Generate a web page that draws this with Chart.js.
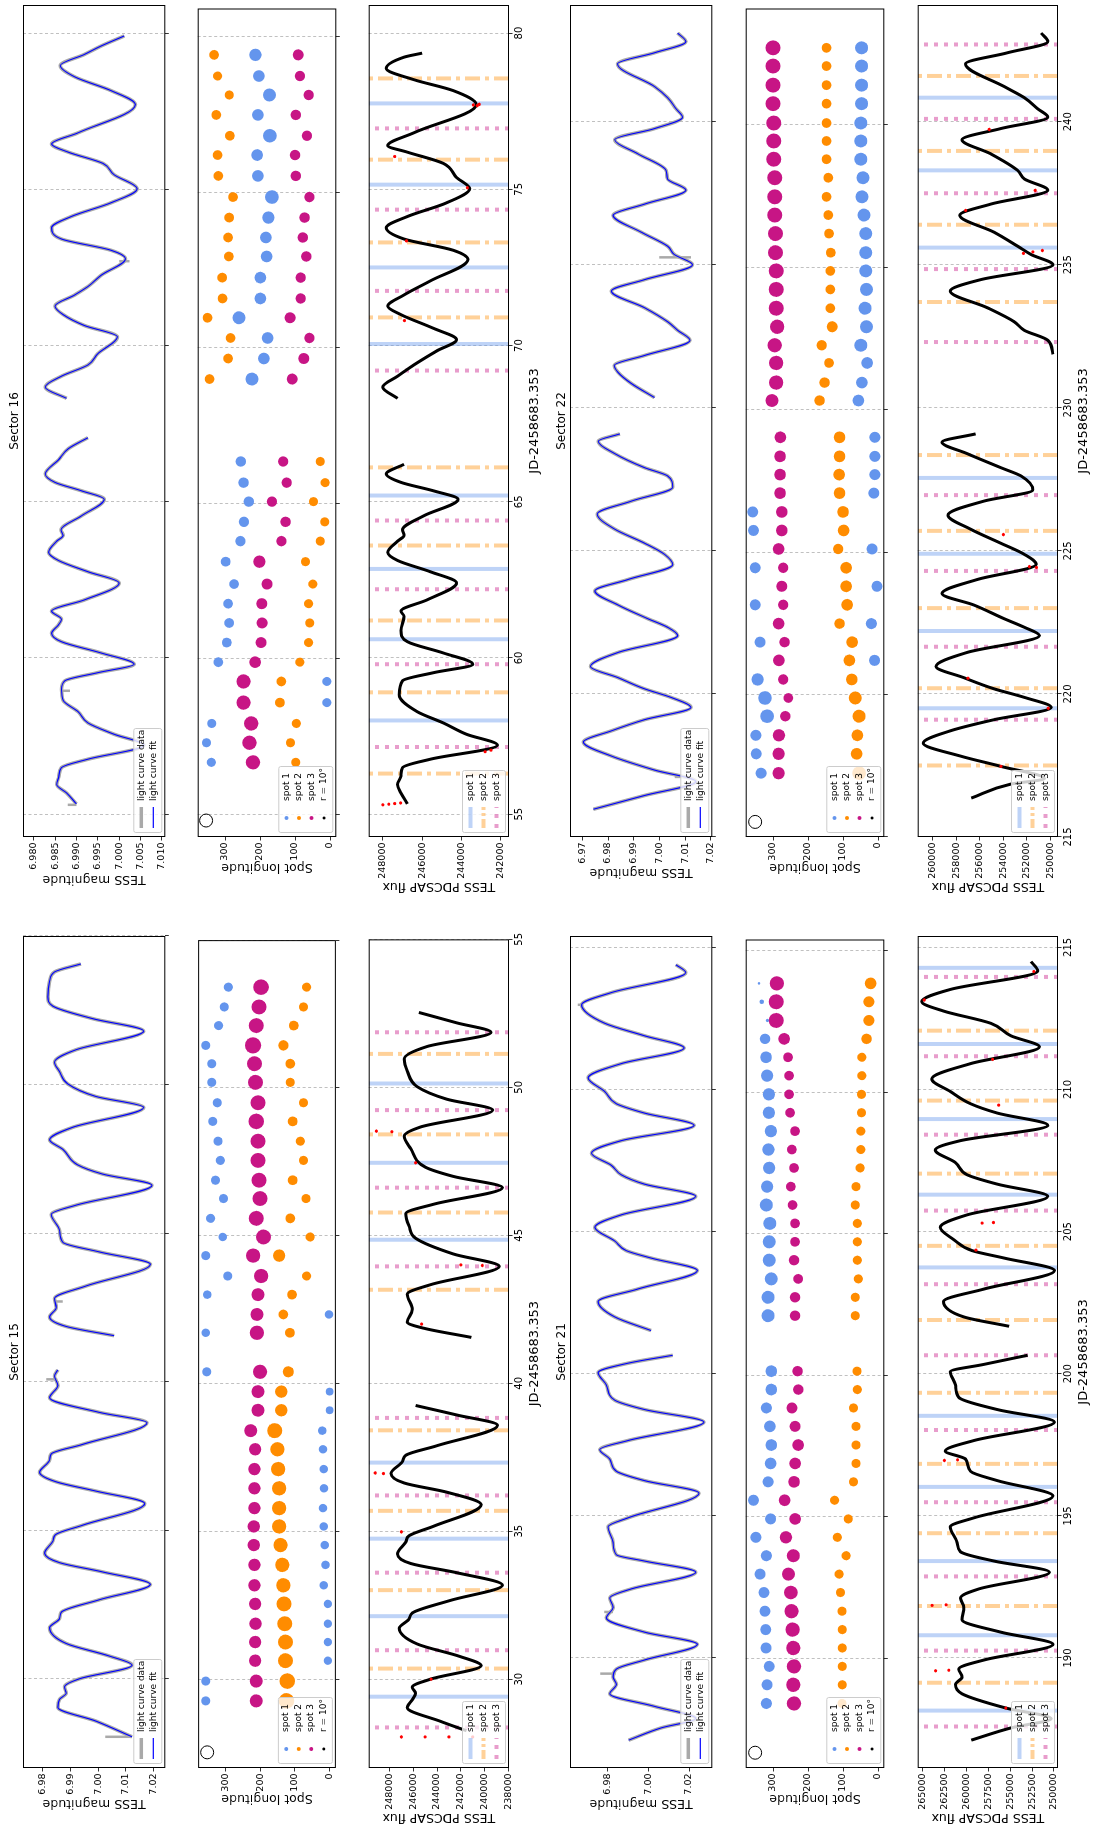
<!DOCTYPE html>
<html>
<head>
<meta charset="utf-8">
<script src="https://cdn.jsdelivr.net/npm/chart.js@4.4.1/dist/chart.umd.min.js"></script>
<style>
  html, body { margin: 0; padding: 0; background: #fff; overflow: hidden; }
  /* the figure is landscape, the page shows it turned a quarter turn */
  #fig { position: absolute; left: 0; top: 0; width: 1831px; height: 1093px;
         transform-origin: 0 0; transform: translateY(1831px) rotate(-90deg); background: #fff; }
  #fig canvas { position: absolute; }
</style>
</head>
<body>
<div id="fig"></div>
<script>
// ---------- Sector 15 ----------
const s15TimeRange = [27, 55];
const s15TimeTicks = [30, 35, 40, 45, 50, 55];
const s15MagRange = [6.9728, 7.0242];
const s15MagTicks = [6.98, 6.99, 7.00, 7.01, 7.02];
const s15MagT = [28.05,28.58,29.04,29.31,29.52,29.73,30.00,30.46,30.77,31.19,31.72,32.03,32.24,32.66,33.18,33.60,33.91,34.23,34.64,34.85,35.17,35.90,36.32,36.63,36.95,37.36,37.57,37.89,38.62,38.97,39.46,39.87,40.19,40.40,
  41.0,
  41.55,41.86,42.18,42.49,42.80,43.22,43.95,44.37,44.69,45.10,45.63,45.94,46.61,46.99,47.30,47.82,48.14,48.56,49.23,49.60,50.02,50.44,50.75,51.17,51.80,52.22,52.64,52.95,53.47,53.79,54.06];
const s15Mag = [7.0122,6.9991,6.9854,6.9860,6.9884,6.9878,6.9931,7.0122,7.0039,6.9884,6.9824,6.9860,6.9866,7.0003,7.0188,7.0015,6.9860,6.9806,6.9836,6.9845,6.9943,7.0168,6.9991,6.9848,6.9788,6.9824,6.9830,6.9943,7.0176,7.0003,6.9824,6.9854,6.9842,6.9854,
  null,
  7.0057,6.9884,6.9824,6.9848,6.9842,6.9955,7.0188,7.0003,6.9872,6.9860,6.9830,6.9919,7.0194,7.0015,6.9925,6.9872,6.9824,6.9907,7.0164,6.9991,6.9890,6.9860,6.9842,6.9919,7.0164,6.9979,6.9836,6.9818,6.9824,6.9842,6.9937];
const s15SpikeT = [28.05, 28.05, 28.06, 40.08, 40.08, 40.09, 42.70, 42.70];
const s15SpikeM = [7.0122, 7.0025, null, 6.9852, 6.9812, null, 6.9845, 6.9872];
const s15FluxRange = [237950, 249740];
const s15FluxTicks = [238000, 240000, 242000, 244000, 246000, 248000];
const s15FluxT = [28.26,28.58,29.04,29.31,29.52,29.73,30.00,30.46,30.77,31.19,31.72,32.03,32.24,32.66,33.18,33.60,33.91,34.23,34.64,34.85,35.17,35.90,36.32,36.63,36.95,37.36,37.57,37.89,38.58,38.93,39.25,
  40.4,
  41.55,41.86,42.07,42.49,43.01,43.33,43.95,44.37,44.90,45.31,45.73,46.05,46.61,46.99,47.30,47.93,48.35,48.66,49.23,49.60,50.02,50.54,50.96,51.38,51.86,52.18,52.53];
const s15Flux = [241530,243730,246490,246070,245800,246070,244560,240290,242080,245660,247170,246350,246070,242900,238500,242350,246210,247310,246620,246350,244280,240290,243180,246760,247860,246900,246620,244010,238910,242350,245800,
  null,
  241110,245110,246490,246070,246490,244560,238770,242630,245800,246350,246620,244280,238500,242630,244970,246210,246760,245380,239320,243180,245660,246490,246760,244830,239460,242350,245520];
const s15RedT = [28.05,28.05,28.05,28.05,30.00,34.98,36.95,36.97,42.00,43.98,44.00,47.45,48.50,48.52];
const s15RedF = [247000,245000,243000,241000,244500,247000,248500,249200,245300,240200,242000,245800,247800,249100];
const s15SpotT = [29.27,29.94,30.63,31.26,31.88,32.55,33.18,33.87,34.54,35.17,35.79,36.46,37.11,37.78,38.41,39.10,39.73,40.40,
  41.72,42.34,43.01,43.64,44.33,44.96,45.59,46.26,46.88,47.55,48.20,48.87,49.50,50.19,50.82,51.44,52.11,52.74,53.41];
const s15Lon1 = [356,356,5,5,5,5,17,12,14,17,19,16,17,19,21,0,0,353, 356,2,352,293,356,307,342,305,328,314,321,336,323,339,339,356,319,303,291];
const s15Lon2 = [124,122,127,127,129,131,133,136,141,145,145,145,148,150,158,139,139,119, 114,133,108,66,145,56,113,68,106,75,84,106,75,113,113,133,103,75,66];
const s15Lon3 = [211,211,214,214,213,214,216,216,218,218,216,216,216,214,227,206,206,200, 209,209,206,197,220,190,211,200,203,206,206,211,206,213,216,220,211,203,197];
const s15Size1 = [7,7,6.5,6.5,6.5,6.5,6.5,6.5,6.5,6.5,6.5,6.5,6.5,6.5,6.5,6,6,7, 6.5,6.5,6.5,7,7,6.5,7,7,7,7,7,7,7,7,7,7,7,7,7];
const s15Size2 = [12,12,11.5,11.5,11.5,11.5,11,11,11,11,11,11,11,11,11.5,9.5,9.5,8.5, 7.5,7.5,7.5,7,9.5,7,7.5,7,7.5,7,7,7.5,7,7,7.5,8,7.5,7,7];
const s15Size3 = [10,10,9.5,9.5,9.5,9.5,9.5,9.5,9.5,9.5,9.5,9.5,9.5,9.5,10,10,10,11, 11,10,10,11,11,11.5,11.5,11.5,11.5,11.5,11.5,12,11.5,11.5,11.5,12.5,11.5,11.5,12];
const s15Line1 = [29.41,32.13,34.75,37.32,44.85,47.45,50.13];
const s15Line2 = [30.36,33.01,35.69,38.41,43.16,45.77,48.41,51.13];
const s15Line3 = [28.37,30.98,33.60,36.21,38.83,43.95,46.61,49.23,51.86];

// ---------- Sector 16 ----------
const s16TimeRange = [54.27, 80.9];
const s16TimeTicks = [55, 60, 65, 70, 75, 80];
const s16MagRange = [6.9775, 7.0108];
const s16MagTicks = [6.980, 6.985, 6.990, 6.995, 7.000, 7.005, 7.010];
const s16MagT = [55.33,55.68,55.95,56.22,56.49,56.76,57.21,57.56,57.92,58.28,58.64,59.00,59.27,59.53,59.80,60.16,60.52,60.79,61.06,61.24,61.50,61.86,62.40,62.76,63.12,63.38,63.74,63.92,64.10,64.55,65.08,65.35,65.62,65.89,66.34,66.70,67.05,
  67.7,
  68.31,68.67,69.02,69.38,69.74,70.28,70.64,70.99,71.26,71.62,71.89,72.25,72.78,73.05,73.41,73.77,74.13,74.57,75.02,75.47,75.83,76.19,76.45,76.81,77.71,78.16,78.60,78.96,79.32,79.59,79.91];
const s16Mag = [6.9900,6.9877,6.9854,6.9859,6.9865,6.9927,7.0058,6.9988,6.9927,6.9904,6.9869,6.9865,6.9873,6.9950,7.0035,6.9958,6.9865,6.9842,6.9858,6.9865,6.9842,6.9919,7.0000,6.9927,6.9858,6.9835,6.9854,6.9869,6.9864,6.9912,6.9965,6.9912,6.9850,6.9827,6.9858,6.9881,6.9927,
  null,
  6.9877,6.9827,6.9865,6.9927,6.9950,6.9996,6.9919,6.9869,6.9850,6.9896,6.9927,6.9958,7.0015,6.9981,6.9865,6.9842,6.9888,6.9981,7.0042,6.9988,6.9962,6.9881,6.9842,6.9904,7.0038,6.9981,6.9896,6.9862,6.9919,6.9958,7.0012];
const s16SpikeT = [55.30, 55.30, 55.31, 58.95, 58.95, 58.96, 72.70, 72.70];
const s16SpikeM = [6.9900, 6.9880, null, 6.9865, 6.9885, null, 7.0000, 7.0024];
const s16FluxRange = [241580, 248720];
const s16FluxTicks = [242000, 244000, 246000, 248000];
const s16FluxT = [55.33,55.68,55.95,56.22,56.49,56.76,57.21,57.56,57.92,58.28,58.82,59.27,59.53,59.80,60.16,60.52,60.88,61.33,61.50,61.86,62.40,62.76,63.12,63.38,63.74,63.92,64.10,64.55,65.08,65.35,65.62,65.89,66.20,
  67.3,
  68.31,68.67,69.02,69.38,69.83,70.19,70.55,70.99,71.26,71.62,72.07,72.75,73.05,73.41,73.77,74.13,74.57,75.02,75.38,75.83,76.19,76.40,76.81,77.71,78.16,78.51,78.87,79.23,79.36];
const s16Flux = [246750,247080,247250,247080,247000,245580,242170,243750,244920,246250,247170,247000,245420,243420,244920,246750,247080,246920,247080,245750,244250,245580,247250,247750,247250,246920,247000,245920,244170,245420,247080,247830,246920,
  null,
  247250,248000,247250,246420,245250,244250,245420,247080,247750,246920,245580,243670,244420,246920,247830,246750,244750,243580,244250,244920,246750,247750,246420,243250,244420,246420,247830,246920,246000];
const s16RedT = [55.30,55.32,55.34,55.36,57.00,57.05,70.80,73.35,75.05,76.05,77.68,77.70,77.72];
const s16RedF = [248000,247700,247400,247100,242800,242500,246900,246800,243700,247400,243200,243400,243100];
const s16SpotT = [56.67,57.30,57.92,58.59,59.27,59.89,60.52,61.15,61.77,62.40,63.12,63.78,64.40,65.05,65.66,66.34,
  68.99,69.65,70.31,70.96,71.58,72.25,72.93,73.54,74.18,74.84,75.52,76.19,76.81,77.48,78.12,78.73,79.41];
const s16Lon1 = [339,353,338,9,9,319,295,288,291,274,298,256,246,232,247,255, 223,189,178,260,199,199,181,183,176,166,206,208,172,206,173,203,213];
const s16Lon2 = [98,113,96,143,139,86,61,58,61,49,70,28,15,47,14,28, 344,291,284,350,307,308,289,291,288,277,319,321,286,325,288,321,331];
const s16Lon3 = [220,230,225,247,247,214,197,194,195,180,202,139,127,166,124,134, 108,75,59,114,84,84,68,78,73,59,98,100,66,98,61,86,91];
const s16Size1 = [7,7,7,7,7,7.5,7.5,7.5,7.5,7.5,7.5,8,8,8,8,8, 10,9,9,10,9,9,9,9,9.5,10.5,9,9,10.5,9,10,9,9.5];
const s16Size2 = [7,7,7,7.5,7.5,7,7,7,7,7,7,7,7,7,7,7, 7.5,7.5,7.5,7.5,7.5,7.5,7.5,7.5,7.5,7.5,7.5,7.5,7.5,7.5,7,7,7.5];
const s16Size3 = [11,11,11,11,11,9,8.5,8.5,8.5,8.5,9.5,8,8,8,8,8, 8.5,8.5,8,8.5,8,8,8,8,8,8,8,8,8,8,8,8,8.5];
const s16Line1 = [58.00,60.60,62.85,65.20,70.05,72.50,75.15,77.75];
const s16Line2 = [56.30,58.90,61.20,63.60,66.10,70.90,73.30,75.95,78.55];
const s16Line3 = [57.15,59.80,62.20,64.40,69.20,71.75,74.35,76.95];

// ---------- Sector 21 ----------
const s21TimeRange = [186.13, 215.4];
const s21TimeTicks = [190, 195, 200, 205, 210, 215];
const s21MagRange = [6.9617, 7.0314];
const s21MagTicks = [6.98, 7.00, 7.02];
const s21MagT = [187.11,187.54,187.87,188.30,188.74,189.07,189.33,189.61,189.93,190.48,190.91,191.41,191.78,192.11,192.43,193.02,193.41,193.63,194.07,194.61,194.93,195.80,196.24,196.57,197.00,197.33,197.65,198.30,198.74,199.07,199.61,200.04,200.37,200.65,
  201.1,
  201.52,202.00,202.54,202.98,203.63,204.07,204.33,204.67,205.15,205.59,206.24,206.67,207.00,207.33,207.76,208.20,208.74,209.17,209.50,209.93,210.41,210.91,211.46,211.89,212.33,212.98,213.41,214.11,214.39];
const s21Mag = [6.9904,7.0063,7.0233,7.0030,6.9812,6.9844,6.9828,6.9844,6.9982,7.0241,6.9982,6.9795,6.9828,6.9812,6.9917,7.0233,6.9982,6.9844,6.9828,6.9803,6.9901,7.0249,6.9982,6.9844,6.9812,6.9763,6.9901,7.0273,6.9982,6.9836,6.9795,6.9755,6.9901,7.0120,
  null,
  7.0014,6.9836,6.9755,6.9949,7.0241,7.0014,6.9893,6.9836,6.9739,6.9868,7.0233,6.9982,6.9868,6.9820,6.9722,6.9868,7.0225,6.9982,6.9844,6.9787,6.9706,6.9868,7.0176,6.9982,6.9787,6.9674,6.9820,7.0184,7.0136];
const s21SpikeT = [189.45, 189.45, 189.46, 191.62, 191.62, 191.63, 212.98, 212.98];
const s21SpikeM = [6.9840, 6.9765, null, 6.9828, 6.9785, null, 6.9674, 6.9655];
const s21FluxRange = [249540, 265540];
const s21FluxTicks = [250000, 252500, 255000, 257500, 260000, 262500, 265000];
const s21FluxT = [187.11,187.54,187.87,188.24,188.74,189.07,189.33,189.61,189.93,190.48,190.91,191.35,191.78,192.11,192.43,193.02,193.41,193.74,194.07,194.61,194.93,195.70,196.24,196.57,197.00,197.28,197.65,198.30,198.74,199.17,199.61,200.07,200.33,200.65,
  201.1,
  201.67,202.00,202.54,202.98,203.63,204.07,204.33,204.72,205.15,205.59,206.24,206.67,207.00,207.43,207.87,208.20,208.74,209.17,209.50,209.93,210.37,210.91,211.50,211.89,212.33,212.76,213.09,213.52,214.17,214.50];
const s21Flux = [259440,254920,250320,255490,260480,261240,260480,260860,257980,250120,256070,260480,260280,260670,258560,250510,256830,260670,261050,261820,259130,250120,256450,259520,260090,262390,259130,249930,256450,260860,261240,261820,257980,253000,
  null,
  255110,260280,262590,257980,249930,255680,259330,261430,262970,259900,250700,256450,259900,261240,263540,260670,250700,256450,259520,261820,263930,259520,251660,254920,257220,262590,265080,261820,251850,252620];
const s21RedT = [188.24,189.55,189.57,191.85,191.87,196.95,196.97,204.35,205.30,205.32,209.45,211.06,213.15,214.15];
const s21RedF = [255500,263500,262000,263900,262300,262500,261000,258900,258200,256900,256300,257000,264800,252300];
const s21SpotT = [188.41,189.07,189.72,190.37,191.02,191.67,192.33,192.98,193.63,194.28,194.93,195.59,196.24,196.89,197.54,198.20,198.85,199.50,200.15,
  202.11,202.76,203.41,204.07,204.72,205.37,206.02,206.67,207.33,207.98,208.63,209.28,209.93,210.59,211.24,211.89,212.54,213.20,213.85];
const s21Lon1 = [319,317,311,320,321,323,326,337,319,349,307,356,314,307,305,309,319,305,305, 314,314,305,311,311,309,319,317,311,313,306,312,312,317,320,323,316,332,340];
const s21Lon2 = [103,102,102,102,102,103,107,111,91,116,85,124,70,63,63,63,70,59,60, 65,65,56,59,59,59,65,63,51,49,49,47,47,46,46,33,26,26,21];
const s21Lon3 = [240,242,240,242,244,247,249,256,242,263,237,267,240,237,228,237,246,228,230, 237,237,228,240,237,237,244,249,240,246,237,251,254,254,257,268,291,291,289];
const s21Size1 = [8.5,8.5,8.5,8.5,8.5,8.5,8.5,8.5,8.5,8.5,8.5,8.5,8.5,9,9,9,8.5,9,9, 10,10,10,10,10,10,10,9.5,9.5,9.5,9.5,9.5,9.5,9.5,9,8,2.5,3.5,2];
const s21Size2 = [7,7,7,7,7,7,7,7,7,7,7,7,7,7,7,7,7,7,7, 7,7,7,7,7,7,7,7,7,7,7,7,7,7,7,8,8.5,8.5,9];
const s21Size3 = [11,11,11,11,11,11,10.5,10,10,9.5,9,9,9,9,9,8.5,8.5,8,8, 8,8,7.5,8,7.5,7.5,7.5,7.5,7.5,7.5,7.5,7.5,7.5,7.5,7.5,9,11.5,11.5,11];
const s21Line1 = [188.15,190.80,193.41,196.02,198.52,203.74,206.30,208.96,211.60,214.28];
const s21Line2 = [189.13,191.83,194.39,196.83,199.33,201.89,204.50,207.04,209.61,212.07];
const s21Line3 = [187.59,190.26,192.87,195.48,198.02,200.65,203.15,205.74,208.41,211.17,213.96];

// ---------- Sector 22 ----------
const s22TimeRange = [215, 244.08];
const s22TimeTicks = [215, 220, 225, 230, 235, 240];
const s22MagRange = [6.9652, 7.0206];
const s22MagTicks = [6.97, 6.98, 6.99, 7.00, 7.01, 7.02];
const s22MagT = [215.97,216.45,216.94,217.34,217.83,218.32,218.71,219.10,219.53,219.88,220.18,220.57,220.96,221.45,222.04,222.33,222.63,223.11,223.60,224.00,224.52,224.88,225.27,225.76,226.29,226.74,227.23,227.62,227.91,228.40,228.83,229.09,
  229.7,
  230.36,230.85,231.24,231.48,231.83,232.36,232.71,233.01,233.50,234.08,234.48,235.00,235.36,235.65,236.14,236.73,237.12,237.61,238.00,238.30,238.88,239.37,239.76,240.16,240.45,240.84,241.23,242.02,242.41,242.80,243.10];
const s22Mag = [6.9743,6.9942,7.0142,6.9981,6.9813,6.9704,6.9813,6.9942,7.0123,7.0045,6.9942,6.9839,6.9732,6.9839,7.0071,7.0032,6.9955,6.9839,6.9749,6.9878,7.0052,7.0020,6.9942,6.9826,6.9758,6.9891,7.0052,7.0032,6.9942,6.9826,6.9762,6.9846,
  null,
  6.9981,6.9891,6.9839,6.9824,6.9942,7.0119,7.0071,7.0032,6.9942,6.9813,6.9942,7.0129,7.0058,7.0032,6.9929,6.9820,6.9942,7.0103,7.0032,7.0026,6.9916,6.9826,6.9981,7.0090,7.0065,7.0032,6.9981,6.9837,6.9981,7.0103,7.0071];
const s22SpikeT = [235.26, 235.26, 235.27, 217.10, 217.10];
const s22SpikeM = [7.0123, 6.9999, null, 7.0060, 7.0110];
const s22FluxRange = [249370, 261250];
const s22FluxTicks = [250000, 252000, 254000, 256000, 258000, 260000];
const s22FluxT = [216.36,216.85,217.04,217.47,217.83,218.28,218.71,219.10,219.53,219.88,220.18,220.57,220.96,221.45,222.04,222.33,222.63,223.11,223.51,224.00,224.53,224.88,225.27,225.76,226.25,226.74,227.13,227.62,227.91,228.40,228.80,229.09,
  230.5,
  231.87,232.36,232.71,233.01,233.50,234.08,234.48,235.00,235.36,235.65,236.14,236.73,237.12,237.61,238.00,238.30,238.88,239.37,239.76,240.16,240.45,240.84,241.23,242.02,242.41,242.80,243.10];
const s22Flux = [256720,253360,250510,254220,257640,260770,258490,254790,249940,252220,254790,257350,259690,257070,250940,252220,253930,256500,259200,256210,251220,252220,254220,256780,258690,255640,251500,252510,254220,257070,259200,256350,
  null,
  249800,250230,252220,253080,255360,258490,255930,249800,251650,252790,254790,257690,255070,250230,252220,252790,255070,257490,254220,250230,251080,252220,253930,257210,253650,250230,250800];
const s22RedT = [217.47,219.50,220.55,224.42,224.45,225.57,235.40,235.45,235.50,236.90,237.60,239.73];
const s22RedF = [254200,250200,257000,251200,251800,254000,252300,251500,250700,257200,251300,255200];
const s22SpotT = [217.24,217.92,218.57,219.24,219.88,220.53,221.20,221.84,222.49,223.15,223.80,224.45,225.11,225.76,226.41,227.07,227.72,228.36,229.03,
  230.32,230.95,231.64,232.26,232.91,233.56,234.22,234.87,235.51,236.18,236.83,237.47,238.14,238.79,239.43,240.06,240.74,241.39,242.06,242.70];
const s22Lon1 = [334,348,349,317,323,344,10,337,19,351,3,351,17,356,358,12,9,9,9, 56,46,31,49,33,37,33,35,35,35,40,46,43,49,49,49,47,47,47,47];
const s22Lon2 = [54,61,59,54,65,75,82,74,110,88,91,91,114,98,100,110,111,110,110, 167,153,140,161,131,136,136,136,135,140,142,147,142,147,147,147,147,147,147,147];
const s22Lon3 = [284,284,283,265,256,271,283,267,284,271,275,271,284,275,275,280,280,280,279, 303,291,291,295,288,291,291,291,293,293,295,295,295,298,298,298,300,300,300,300];
const s22Size1 = [8.5,8.5,8.5,10.5,10.5,9.5,8.5,8.5,8.5,8.5,8.5,8.5,8.5,8.5,8.5,8.5,8.5,8.5,8.5, 9,9,9,10,10,10,10,10,10,10,10,10,10,10,10,10,10,10,10,10];
const s22Size2 = [10.5,9,9,10,10,9,9,9,8,9,9,9,8,9,9,9,9,9,9, 8,8,7.5,8,8.5,7.5,7.5,7.5,7.5,7.5,7.5,7.5,7.5,7.5,7.5,7.5,7.5,7.5,7.5,7.5];
const s22Size3 = [9.5,9.5,9.5,8,7.5,8,9,8,9,8,8.5,8,9,9,9,9,9,9,9, 10,11,11,11,11,11.5,11.5,11.5,11.5,11.5,11.5,11.5,11.5,11.5,11.5,11.5,11.5,11.5,11.5,11.5];
const s22Line1 = [219.50,222.20,224.90,227.55,235.60,238.30,240.84];
const s22Line2 = [217.50,220.20,223.00,225.70,228.35,233.70,236.40,238.98,241.60];
const s22Line3 = [219.10,221.65,224.30,226.95,232.30,234.85,237.50,240.10,242.70];

// shared
const lonRange = [-18, 378];
const lonTicks = [0, 100, 200, 300];
const refT = [27.53, 54.80, 186.67, 215.53];   // open r = 10 deg circle, one per sector
const refLon = [352, 354, 351, 351];
const refSize = 10;

// ---------- drawing ----------
Chart.defaults.font.family = "'DejaVu Sans', sans-serif";
Chart.defaults.color = '#000';

const K = 0.65;            // px per degree of spot radius
const COLS = [63, 994];
const ROWS = [[23, 194, 365], [570, 742, 914]];
const PW = 832, PH = 144, LEFT_W = 64, RIGHT_PAD = 4;
const fig = document.getElementById('fig');

const C_SPOT1 = '#6495ed', C_SPOT2 = '#ff8c00', C_SPOT3 = '#c71585';
const L_SPOT1 = 'rgba(100,149,237,0.42)', L_SPOT2 = 'rgba(255,140,0,0.40)', L_SPOT3 = 'rgba(199,21,133,0.42)';
const DASH2 = [15, 5, 4, 5], DASH3 = [4, 6];
const FIT_BLUE = '#0000ff', DATA_GREY = '#a9a9a9';

const pairs = (xs, ys) => xs.map((x, i) => ({x: x, y: ys[i]}));
const bubbles = (ts, ys, rs) => ts.map((t, i) => ({x: t, y: ys[i], r: rs[i] * K}));
function vlines(ts, lo, hi) {
  const out = [];
  ts.forEach(t => out.push({x: t, y: lo}, {x: t, y: hi}, {x: t, y: null}));
  return out;
}

const framePlugin = {
  id: 'frame',
  afterDraw(chart) {
    const a = chart.chartArea, ctx = chart.ctx;
    ctx.save();
    ctx.strokeStyle = '#000';
    ctx.lineWidth = 1;
    ctx.strokeRect(a.left + 0.5, a.top + 0.5, a.right - a.left - 1, a.bottom - a.top - 1);
    ctx.restore();
  }
};

const sectorTitle = {
  id: 'sectorTitle',
  afterDraw(chart, args, o) {
    if (!o || !o.text) return;
    const a = chart.chartArea, ctx = chart.ctx;
    ctx.save();
    ctx.font = "12px 'DejaVu Sans'";
    ctx.fillStyle = '#000';
    ctx.textAlign = 'center';
    ctx.textBaseline = 'middle';
    ctx.fillText(o.text, (a.left + a.right) / 2, a.top - 8);
    ctx.restore();
  }
};

// legend boxed inside the lower left corner, like matplotlib's
const boxLegend = {
  id: 'boxLegend',
  afterDatasetsDraw(chart, args, o) {
    if (!o || !o.items) return;
    const a = chart.chartArea, ctx = chart.ctx;
    const h = o.rowH * o.items.length + 4;
    const x0 = a.left + 4, y0 = a.bottom - 4 - h;
    ctx.save();
    ctx.fillStyle = 'rgba(255,255,255,0.8)';
    ctx.strokeStyle = '#cccccc';
    ctx.lineWidth = 1;
    ctx.beginPath();
    ctx.roundRect(x0 + 0.5, y0 + 0.5, o.width, h, 2);
    ctx.fill();
    ctx.stroke();
    ctx.font = "9px 'DejaVu Sans'";
    ctx.textBaseline = 'middle';
    o.items.forEach((it, i) => {
      const cy = y0 + 2 + o.rowH * (i + 0.5);
      if (it.kind === 'line') {
        ctx.save();
        ctx.strokeStyle = it.color;
        ctx.lineWidth = it.width;
        ctx.setLineDash(it.dash || []);
        ctx.beginPath();
        ctx.moveTo(x0 + 5, cy);
        ctx.lineTo(x0 + 26, cy);
        ctx.stroke();
        ctx.restore();
      } else {
        ctx.fillStyle = it.color;
        ctx.beginPath();
        ctx.arc(x0 + 15, cy, it.r, 0, Math.PI * 2);
        ctx.fill();
      }
      ctx.fillStyle = '#000';
      ctx.fillText(it.text, x0 + 32, cy);
    });
    ctx.restore();
  }
};

Chart.register(framePlugin, sectorTitle, boxLegend);

function options(p) {
  return {
    responsive: false,
    animation: false,
    devicePixelRatio: 1,
    events: [],
    layout: {padding: {left: 0, right: RIGHT_PAD, top: p.topPad, bottom: 0}},
    plugins: {
      legend: {display: false},
      tooltip: {enabled: false},
      boxLegend: p.legend || {},
      sectorTitle: {text: p.title || ''}
    },
    scales: {
      x: {
        type: 'linear', min: p.t[0], max: p.t[1],
        afterBuildTicks: s => { s.ticks = p.tTicks.map(v => ({value: v})); },
        afterFit: s => { s.height = p.bottomH; },
        ticks: {display: p.xLabels, autoSkip: false, maxRotation: 0, minRotation: 0, padding: 1,
                font: {size: 10}, callback: v => String(v)},
        grid: {color: '#b0b0b0', lineWidth: 0.8, drawTicks: true, tickLength: 3.5,
               tickColor: '#000', tickWidth: 0.8},
        border: {display: false, dash: [3, 2.5]},
        title: {display: p.xLabels, text: 'JD-2458683.353', font: {size: 13},
                padding: {top: 0, bottom: 7}}
      },
      y: {
        type: 'linear', min: p.y[0], max: p.y[1], reverse: !!p.reverse,
        afterBuildTicks: s => { s.ticks = p.yTicks.map(v => ({value: v})); },
        afterFit: s => { s.width = LEFT_W; },
        ticks: {autoSkip: false, padding: 2, font: {size: 9.5}, callback: p.yFmt},
        grid: {drawOnChartArea: false, drawTicks: true, tickLength: 3.5, tickColor: '#000', tickWidth: 0.8},
        border: {display: false},
        title: {display: true, text: p.yTitle, font: {size: 12.5},
                padding: {top: LEFT_W - p.yTitleDist - 7.5, bottom: 0}}
      }
    }
  };
}

function addChart(left, top, topPad, bottomH, cfg) {
  const c = document.createElement('canvas');
  const w = LEFT_W + PW + RIGHT_PAD, h = topPad + PH + bottomH;
  c.width = w; c.height = h;
  c.style.left = (left - LEFT_W) + 'px';
  c.style.top = (top - topPad) + 'px';
  c.style.width = w + 'px';
  c.style.height = h + 'px';
  fig.appendChild(c);
  return new Chart(c, cfg);
}

const sectors = [
  {title: 'Sector 15', col: 0, row: 0, t: s15TimeRange, tTicks: s15TimeTicks,
   magT: s15MagT, mag: s15Mag, spikeT: s15SpikeT, spikeM: s15SpikeM,
   magRange: s15MagRange, magTicks: s15MagTicks, magDec: 2, magDist: 35,
   fluxT: s15FluxT, flux: s15Flux, fluxRange: s15FluxRange, fluxTicks: s15FluxTicks, redT: s15RedT, redF: s15RedF,
   spotT: s15SpotT, lon: [s15Lon1, s15Lon2, s15Lon3], size: [s15Size1, s15Size2, s15Size3],
   lines: [s15Line1, s15Line2, s15Line3], ref: 0},
  {title: 'Sector 16', col: 1, row: 0, t: s16TimeRange, tTicks: s16TimeTicks,
   magT: s16MagT, mag: s16Mag, spikeT: s16SpikeT, spikeM: s16SpikeM,
   magRange: s16MagRange, magTicks: s16MagTicks, magDec: 3, magDist: 42,
   fluxT: s16FluxT, flux: s16Flux, fluxRange: s16FluxRange, fluxTicks: s16FluxTicks, redT: s16RedT, redF: s16RedF,
   spotT: s16SpotT, lon: [s16Lon1, s16Lon2, s16Lon3], size: [s16Size1, s16Size2, s16Size3],
   lines: [s16Line1, s16Line2, s16Line3], ref: 1},
  {title: 'Sector 21', col: 0, row: 1, t: s21TimeRange, tTicks: s21TimeTicks,
   magT: s21MagT, mag: s21Mag, spikeT: s21SpikeT, spikeM: s21SpikeM,
   magRange: s21MagRange, magTicks: s21MagTicks, magDec: 2, magDist: 35,
   fluxT: s21FluxT, flux: s21Flux, fluxRange: s21FluxRange, fluxTicks: s21FluxTicks, redT: s21RedT, redF: s21RedF,
   spotT: s21SpotT, lon: [s21Lon1, s21Lon2, s21Lon3], size: [s21Size1, s21Size2, s21Size3],
   lines: [s21Line1, s21Line2, s21Line3], ref: 2},
  {title: 'Sector 22', col: 1, row: 1, t: s22TimeRange, tTicks: s22TimeTicks,
   magT: s22MagT, mag: s22Mag, spikeT: s22SpikeT, spikeM: s22SpikeM,
   magRange: s22MagRange, magTicks: s22MagTicks, magDec: 2, magDist: 35,
   fluxT: s22FluxT, flux: s22Flux, fluxRange: s22FluxRange, fluxTicks: s22FluxTicks, redT: s22RedT, redF: s22RedF,
   spotT: s22SpotT, lon: [s22Lon1, s22Lon2, s22Lon3], size: [s22Size1, s22Size2, s22Size3],
   lines: [s22Line1, s22Line2, s22Line3], ref: 3}
];

sectors.forEach(s => {
  const left = COLS[s.col];
  const [yMag, ySpot, yFlux] = ROWS[s.row];

  // light curve: grey data under the blue fit
  addChart(left, yMag, 20, 6, {
    type: 'line',
    data: {datasets: [
      {data: pairs(s.magT, s.mag), borderColor: DATA_GREY, borderWidth: 3.6, pointRadius: 0,
       cubicInterpolationMode: 'monotone', order: 3},
      {data: pairs(s.spikeT, s.spikeM), borderColor: DATA_GREY, borderWidth: 2.5, pointRadius: 0, order: 2},
      {data: pairs(s.magT, s.mag), borderColor: FIT_BLUE, borderWidth: 1.1, pointRadius: 0,
       cubicInterpolationMode: 'monotone', order: 1}
    ]},
    options: options({
      topPad: 20, bottomH: 6, xLabels: false, t: s.t, tTicks: s.tTicks, title: s.title,
      y: s.magRange, yTicks: s.magTicks, reverse: true, yFmt: v => v.toFixed(s.magDec),
      yTitle: 'TESS magnitude', yTitleDist: s.magDist,
      legend: {rowH: 12, width: 104, items: [
        {kind: 'line', color: DATA_GREY, width: 3.5, text: 'light curve data'},
        {kind: 'line', color: FIT_BLUE, width: 1.2, text: 'light curve fit'}
      ]}
    })
  });

  // spot longitudes
  addChart(left, ySpot, 4, 6, {
    type: 'bubble',
    data: {datasets: [
      {data: bubbles(s.spotT, s.lon[0], s.size[0]), backgroundColor: C_SPOT1, borderWidth: 0, order: 3},
      {data: bubbles(s.spotT, s.lon[1], s.size[1]), backgroundColor: C_SPOT2, borderWidth: 0, order: 2},
      {data: bubbles(s.spotT, s.lon[2], s.size[2]), backgroundColor: C_SPOT3, borderWidth: 0, order: 1},
      {data: [{x: refT[s.ref], y: refLon[s.ref], r: refSize * K}], backgroundColor: 'rgba(0,0,0,0)',
       borderColor: '#000', borderWidth: 1, order: 0}
    ]},
    options: options({
      topPad: 4, bottomH: 6, xLabels: false, t: s.t, tTicks: s.tTicks,
      y: lonRange, yTicks: lonTicks, yFmt: v => String(v),
      yTitle: 'Spot longitude', yTitleDist: 30,
      legend: {rowH: 12.5, width: 66, items: [
        {kind: 'dot', color: C_SPOT1, r: 2, text: 'spot 1'},
        {kind: 'dot', color: C_SPOT2, r: 2, text: 'spot 2'},
        {kind: 'dot', color: C_SPOT3, r: 2, text: 'spot 3'},
        {kind: 'dot', color: '#000', r: 1.5, text: 'r = 10°'}
      ]}
    })
  });

  // PDCSAP flux with the spot crossing times
  const lo = s.fluxRange[0], hi = s.fluxRange[1];
  addChart(left, yFlux, 4, 40, {
    type: 'line',
    data: {datasets: [
      {data: vlines(s.lines[0], lo, hi), borderColor: L_SPOT1, borderWidth: 4, pointRadius: 0,
       borderCapStyle: 'butt', order: 5},
      {data: vlines(s.lines[1], lo, hi), borderColor: L_SPOT2, borderWidth: 4, pointRadius: 0,
       borderDash: DASH2, borderCapStyle: 'butt', order: 4},
      {data: vlines(s.lines[2], lo, hi), borderColor: L_SPOT3, borderWidth: 4, pointRadius: 0,
       borderDash: DASH3, borderCapStyle: 'butt', order: 3},
      {data: pairs(s.fluxT, s.flux), borderColor: '#000', borderWidth: 3, pointRadius: 0,
       cubicInterpolationMode: 'monotone', order: 2},
      {data: pairs(s.redT, s.redF), showLine: false, pointRadius: 1.6, pointBorderWidth: 0,
       pointBackgroundColor: '#ff0000', order: 1}
    ]},
    options: options({
      topPad: 4, bottomH: 40, xLabels: true, t: s.t, tTicks: s.tTicks,
      y: s.fluxRange, yTicks: s.fluxTicks, yFmt: v => String(v),
      yTitle: 'TESS PDCSAP flux', yTitleDist: 49,
      legend: {rowH: 13, width: 62, items: [
        {kind: 'line', color: L_SPOT1, width: 4, text: 'spot 1'},
        {kind: 'line', color: L_SPOT2, width: 4, dash: [9, 3, 3, 3], text: 'spot 2'},
        {kind: 'line', color: L_SPOT3, width: 4, dash: DASH3, text: 'spot 3'}
      ]}
    })
  });
});
</script>
</body>
</html>
